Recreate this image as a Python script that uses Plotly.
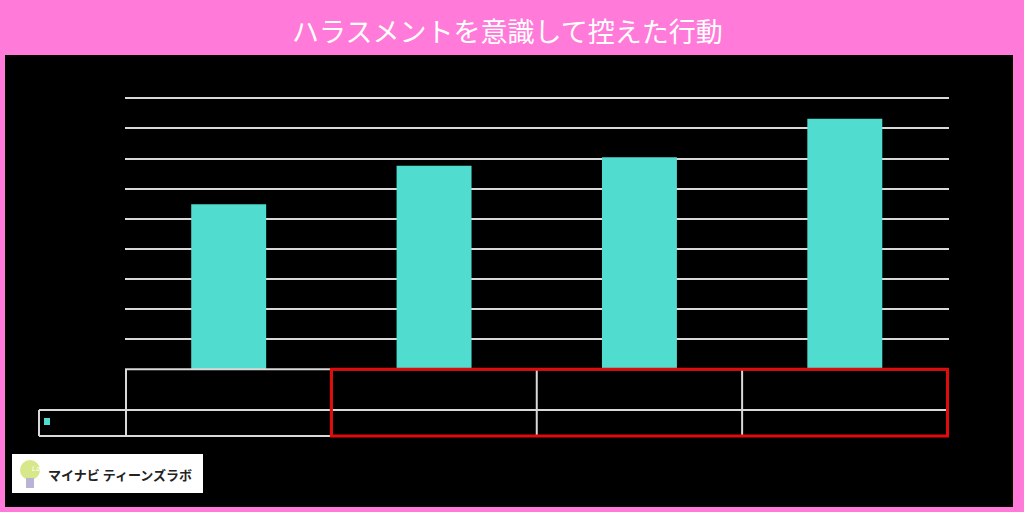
import plotly.graph_objects as go

W, H = 1024, 512

# data (labels in the original are black on black, unreadable)
categories = ["1", "2", "3", "4"]
values = [27.4, 33.8, 35.2, 41.6]
title_text = "ハラスメントを意識して控えた行動"
logo_text = "マイナビ ティーンズラボ"

pink = "#FF7AD9"
teal = "#50DDCF"
grid = "#D9D9D9"
red = "#E00B0B"


def px(x):
    return x / W


def py(y):
    return 1 - y / H


fig = go.Figure()
fig.add_trace(go.Bar(x=categories, y=values, marker_color=teal, marker_line_width=0,
                     showlegend=False, hoverinfo="skip"))

shapes = []
# black board inside the pink frame
shapes.append(dict(type="rect", xref="paper", yref="paper", layer="below",
                   x0=px(5), x1=px(1013), y0=py(507), y1=py(55),
                   fillcolor="black", line_width=0))

# data table under the plot
tl = dict(color=grid, width=2)
shapes.append(dict(type="line", xref="paper", yref="paper", x0=px(125), x1=px(949),
                   y0=py(369.3), y1=py(369.3), line=tl))
for yy in [410, 436]:
    shapes.append(dict(type="line", xref="paper", yref="paper", x0=px(39), x1=px(949),
                       y0=py(yy), y1=py(yy), line=tl))
shapes.append(dict(type="line", xref="paper", yref="paper", x0=px(39), x1=px(39),
                   y0=py(410), y1=py(436), line=tl))
for i in range(len(categories) + 1):
    shapes.append(dict(type="line", xref="x", yref="paper", x0=i - 0.5, x1=i - 0.5,
                       y0=py(369.3), y1=py(436), line=tl))
# red highlight box over the last three columns
shapes.append(dict(type="rect", xref="x", yref="paper", x0=0.5, x1=len(categories) - 0.5,
                   y0=py(436), y1=py(369.3), line=dict(color=red, width=3)))
# legend key
shapes.append(dict(type="rect", xref="paper", yref="paper", x0=px(44), x1=px(50),
                   y0=py(425), y1=py(418), fillcolor=teal, line_width=0))

# logo box
shapes.append(dict(type="rect", xref="paper", yref="paper", x0=px(12), x1=px(203),
                   y0=py(493), y1=py(454), fillcolor="white", line_width=0))
shapes.append(dict(type="circle", xref="paper", yref="paper", x0=px(20), x1=px(40),
                   y0=py(480), y1=py(460), fillcolor="#D6E88A", line_width=0))
shapes.append(dict(type="rect", xref="paper", yref="paper", x0=px(26), x1=px(34),
                   y0=py(488), y1=py(478), fillcolor="#B9B3D6", line_width=0))

fig.update_layout(
    width=W, height=H,
    margin=dict(l=0, r=0, t=0, b=0),
    paper_bgcolor=pink,
    plot_bgcolor="black",
    bargap=0.635,
    shapes=shapes,
    xaxis=dict(domain=[px(125), px(949)], showticklabels=False, showgrid=False,
               zeroline=False, showline=False, fixedrange=True),
    # range padded a little so the top gridline at 45 is still drawn
    yaxis=dict(domain=[py(369.3), py(97.1)], range=[0, 45.2], dtick=5,
               showticklabels=False, showgrid=True, gridcolor=grid, gridwidth=2,
               zeroline=False, showline=False, fixedrange=True),
    annotations=[
        dict(text=title_text, xref="paper", yref="paper", x=px(507), y=py(30),
             yanchor="middle", showarrow=False,
             font=dict(family="Noto Sans CJK JP", size=27, color="white")),
        dict(text="<b>" + logo_text + "</b>", xref="paper", yref="paper", x=px(46), y=py(474),
             xanchor="left", yanchor="middle", showarrow=False,
             font=dict(family="Noto Sans CJK JP", size=13, color="#222222")),
        dict(text="<i>Lab</i>", xref="paper", yref="paper", x=px(30), y=py(469),
             yanchor="middle", showarrow=False,
             font=dict(family="DejaVu Sans", size=7, color="white")),
    ],
)

fig.write_html("out.html", config={"displayModeBar": False},
               post_script="document.body.style.margin='0';")
